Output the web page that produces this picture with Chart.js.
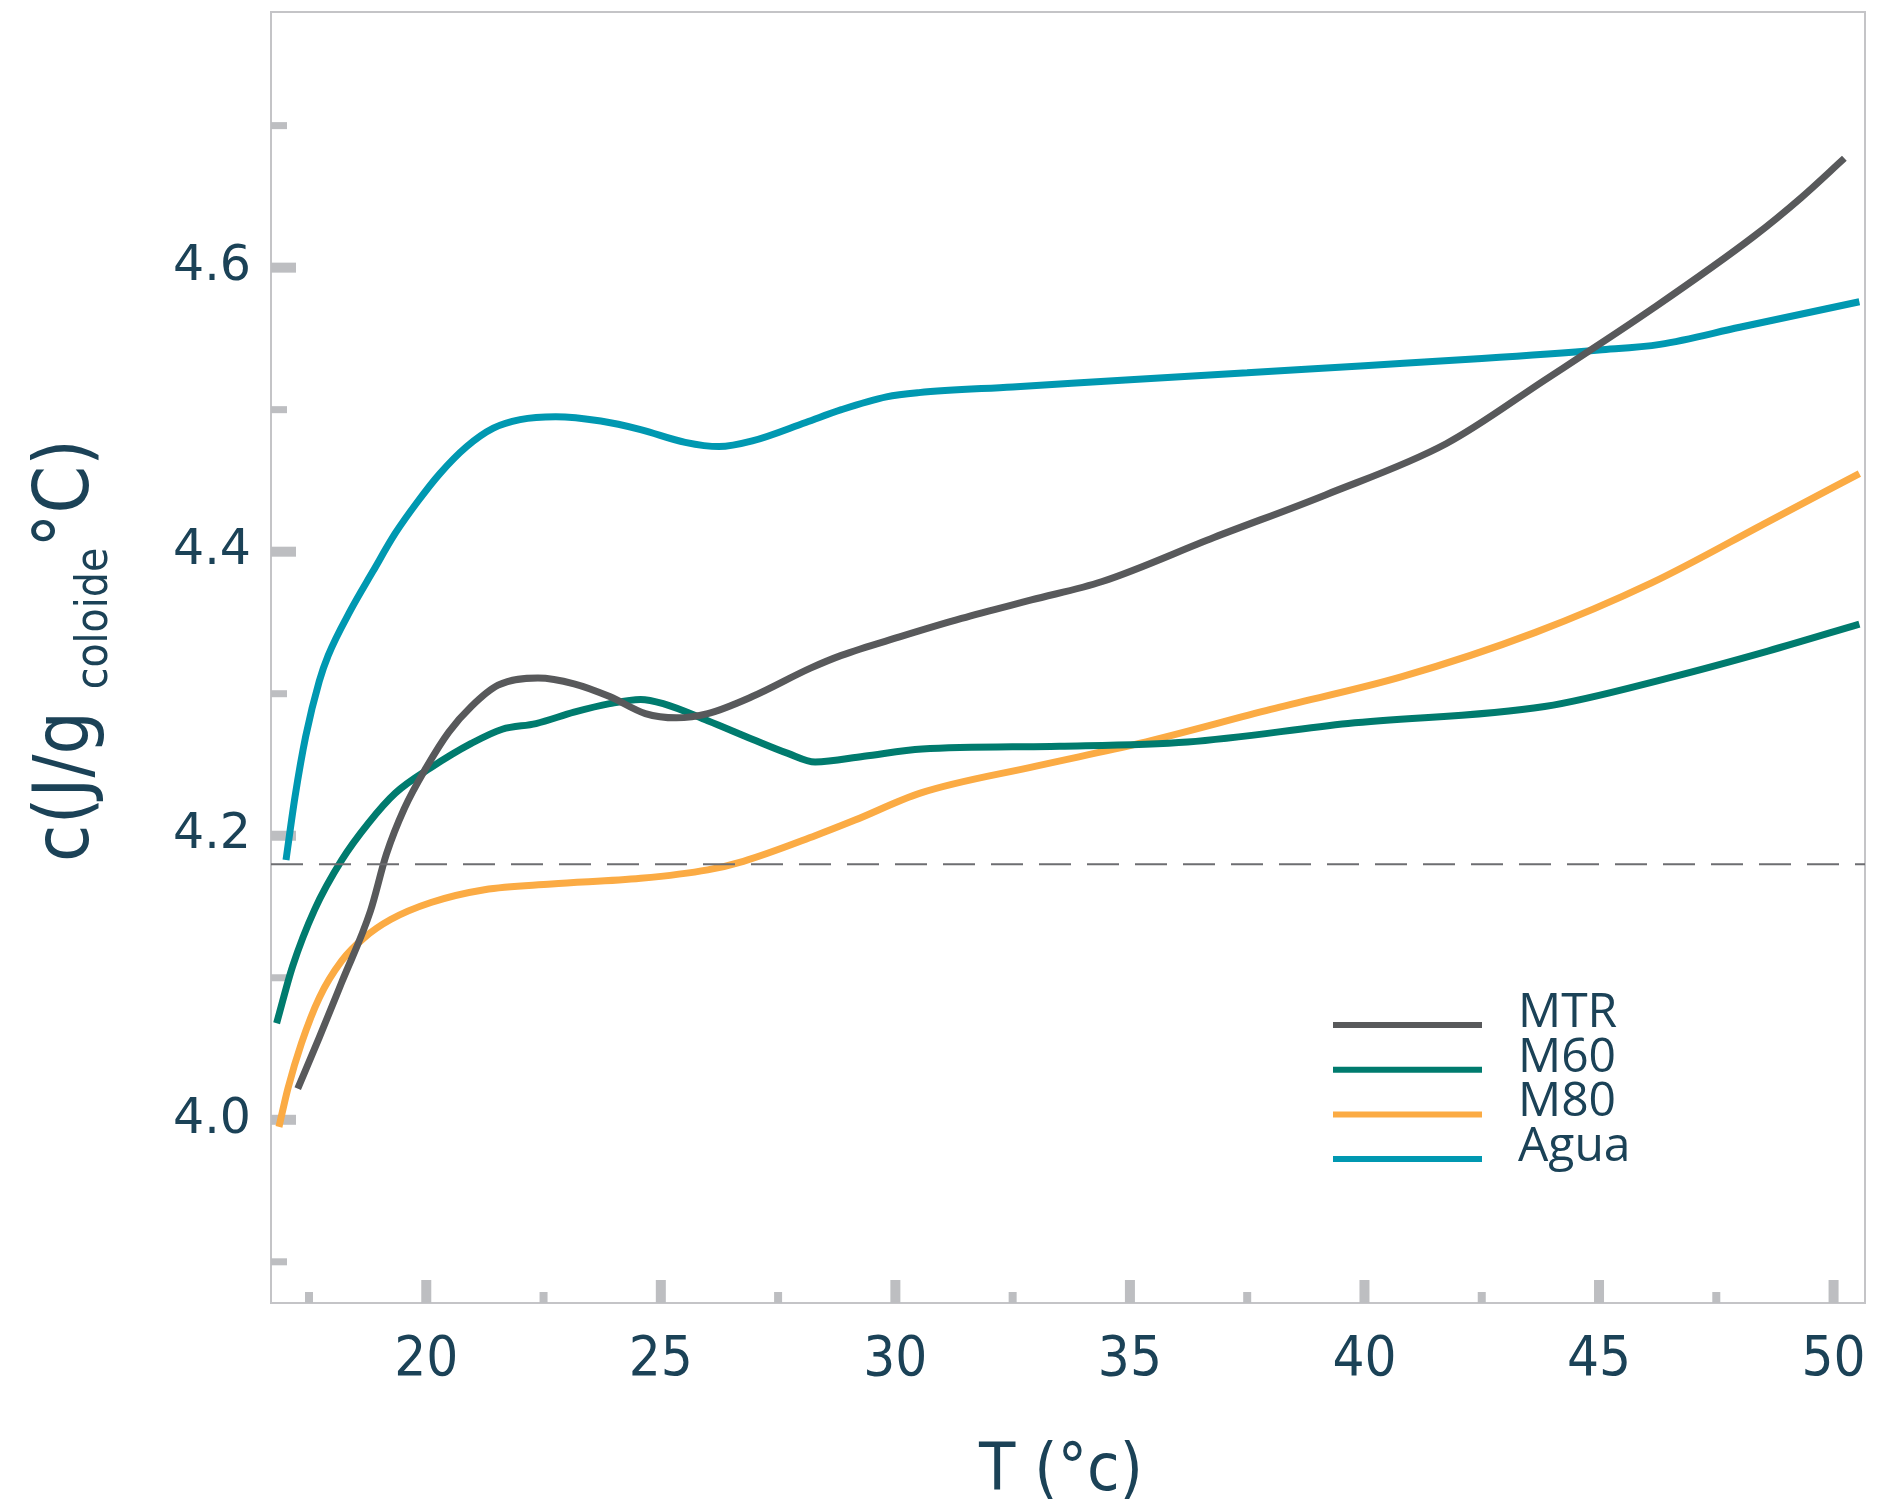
<!DOCTYPE html>
<html lang="es">
<head>
    <meta charset="UTF-8">
    <title>Calor específico de coloides</title>
    <script src="https://cdn.jsdelivr.net/npm/chart.js"></script>
    <style>
        html, body { margin: 0; padding: 0; background: #fff; }
        #wrap { width: 1878px; height: 1511px; }
    </style>
</head>
<body>
    <div id="wrap"><canvas id="chart"></canvas></div>

    <script>
        // Temperatura (°C) y calor específico c (J/g °C) por muestra
        const mtrT = [17.26, 17.72, 18.20, 18.81, 19.15, 19.53, 20.0, 20.48, 20.96, 21.53, 22.38, 23.15, 23.91, 24.67, 25.33, 26.0, 26.95, 28.19, 28.85, 30.09, 31.41, 32.9, 34.41, 36.79, 39.17, 41.74, 43.85, 46.18, 48.3, 49.3, 50.23];
        const mtrC = [4.022, 4.058, 4.097, 4.147, 4.187, 4.219, 4.248, 4.273, 4.291, 4.306, 4.311, 4.307, 4.298, 4.286, 4.283, 4.286, 4.298, 4.318, 4.327, 4.340, 4.353, 4.366, 4.379, 4.410, 4.440, 4.476, 4.521, 4.572, 4.622, 4.649, 4.677];

        const m60T = [16.81, 17.15, 17.62, 18.20, 18.77, 19.34, 20.10, 20.96, 21.62, 22.34, 23.15, 23.91, 24.57, 25.05, 26.0, 26.95, 27.71, 28.29, 29.33, 30.57, 33.5, 36.23, 39.65, 43.84, 46.47, 48.6, 50.55];
        const m60C = [4.068, 4.108, 4.148, 4.183, 4.209, 4.230, 4.248, 4.265, 4.275, 4.279, 4.287, 4.293, 4.296, 4.293, 4.281, 4.268, 4.258, 4.252, 4.256, 4.261, 4.263, 4.266, 4.279, 4.291, 4.311, 4.330, 4.349];

        const m80T = [16.86, 17.05, 17.34, 17.72, 18.20, 18.67, 19.24, 20.10, 21.24, 22.67, 24.57, 26.0, 26.76, 28.29, 29.14, 30.53, 33.0, 35.2, 38.0, 40.8, 43.63, 46.12, 48.6, 50.55];
        const m80C = [3.995, 4.022, 4.054, 4.086, 4.112, 4.128, 4.141, 4.153, 4.162, 4.166, 4.170, 4.176, 4.182, 4.200, 4.211, 4.230, 4.249, 4.265, 4.289, 4.312, 4.343, 4.378, 4.421, 4.455];

        const aguaT = [17.01, 17.20, 17.43, 17.72, 17.91, 18.39, 18.86, 19.34, 19.81, 20.29, 20.86, 21.43, 22.0, 22.76, 23.72, 24.57, 25.52, 26.24, 26.95, 28.09, 28.85, 29.81, 30.5, 32.5, 35.0, 37.5, 40.0, 42.5, 45.0, 46.3, 48.0, 50.55];
        const aguaC = [4.183, 4.227, 4.270, 4.309, 4.327, 4.359, 4.386, 4.413, 4.435, 4.455, 4.474, 4.487, 4.493, 4.495, 4.492, 4.486, 4.477, 4.474, 4.478, 4.491, 4.500, 4.509, 4.512, 4.516, 4.521, 4.526, 4.531, 4.536, 4.542, 4.546, 4.558, 4.576];

        // Valor de referencia (agua, 4.18 J/g °C)
        const referenceC = 4.18;

        const seriesNames = ['MTR', 'M60', 'M80', 'Agua'];
        const seriesColors = ['#58595b', '#007b6e', '#fbab44', '#0098b1'];

        // Ejes
        const xMin = 16.69, xMax = 50.67;
        const yMin = 3.871, yMax = 4.78;
        const xMajorTicks = [20, 25, 30, 35, 40, 45, 50];
        const xMinorTicks = [17.5, 22.5, 27.5, 32.5, 37.5, 42.5, 47.5];
        const yMajorTicks = [4.0, 4.2, 4.4, 4.6];
        const yMinorTicks = [3.9, 4.1, 4.3, 4.5, 4.7];

        const TEXT = '#1b4257';
        const TICK = '#bdbec1';
        const FRAME = '#c4c4c7';
        const CONDENSED = "'DejaVu Sans Condensed', 'Liberation Sans Narrow', sans-serif";

        function points(xs, ys) {
            return xs.map((x, i) => ({ x: x, y: ys[i] }));
        }

        const seriesData = [
            points(mtrT, mtrC),
            points(m60T, m60C),
            points(m80T, m80C),
            points(aguaT, aguaC)
        ];

        // Marco, marcas de los ejes, títulos y leyenda
        const decorations = {
            id: 'decorations',
            beforeDatasetsDraw(chart) {
                const { ctx, chartArea: a, scales: { x, y } } = chart;
                ctx.save();
                ctx.strokeStyle = FRAME;
                ctx.lineWidth = 2;
                ctx.strokeRect(a.left, a.top, a.width, a.height);

                ctx.fillStyle = TICK;
                yMajorTicks.forEach(v => {
                    const p = y.getPixelForValue(v);
                    ctx.fillRect(a.left, p - 5, 25, 10);
                });
                yMinorTicks.forEach(v => {
                    const p = y.getPixelForValue(v);
                    ctx.fillRect(a.left, p - 3.5, 16, 7);
                });
                xMajorTicks.forEach(v => {
                    const p = x.getPixelForValue(v);
                    ctx.fillRect(p - 5, a.bottom - 23, 10, 23);
                });
                xMinorTicks.forEach(v => {
                    const p = x.getPixelForValue(v);
                    ctx.fillRect(p - 4, a.bottom - 11, 8, 11);
                });
                ctx.restore();
            },
            afterDraw(chart) {
                const { ctx, chartArea: a } = chart;
                ctx.save();
                ctx.fillStyle = TEXT;

                // Título eje X
                ctx.font = `66px ${CONDENSED}`;
                ctx.textAlign = 'center';
                ctx.textBaseline = 'middle';
                ctx.fillText('T (°c)', (a.left + a.right) / 2 - 7, a.bottom + 170);

                // Título eje Y con subíndice
                const big = `76px ${CONDENSED}`;
                const small = `44px 'Liberation Sans Narrow', ${CONDENSED}`;
                const runs = [
                    { text: 'c(J/g ', font: big, dy: 0 },
                    { text: 'coloide', font: small, dy: 19 },
                    { text: '°C)', font: big, dy: 0 }
                ];
                let total = 0;
                runs.forEach(r => { ctx.font = r.font; r.w = ctx.measureText(r.text).width; total += r.w; });
                ctx.translate(88, (a.top + a.bottom) / 2 - 7);
                ctx.rotate(-Math.PI / 2);
                ctx.textAlign = 'left';
                ctx.textBaseline = 'alphabetic';
                let cx = -total / 2;
                runs.forEach(r => {
                    ctx.font = r.font;
                    ctx.fillText(r.text, cx, r.dy);
                    cx += r.w;
                });
                ctx.setTransform(1, 0, 0, 1, 0, 0);

                // Leyenda
                const lx = a.right - 532;
                const ly = a.bottom - 278;
                ctx.font = "48px 'Open Sans', sans-serif";
                ctx.textAlign = 'left';
                ctx.textBaseline = 'alphabetic';
                seriesNames.forEach((name, i) => {
                    const rowY = ly + i * 44.7;
                    ctx.strokeStyle = seriesColors[i];
                    ctx.lineWidth = 6;
                    ctx.beginPath();
                    ctx.moveTo(lx, rowY);
                    ctx.lineTo(lx + 149, rowY);
                    ctx.stroke();
                    ctx.fillStyle = TEXT;
                    ctx.fillText(name, lx + 185, rowY + 2);
                });
                ctx.restore();
            }
        };

        const datasets = seriesNames.map((name, i) => ({
            label: name,
            data: seriesData[i],
            borderColor: seriesColors[i],
            borderWidth: 7,
            pointRadius: 0,
            fill: false,
            cubicInterpolationMode: 'monotone'
        }));

        datasets.unshift({
            label: 'Referencia',
            data: [{ x: xMin, y: referenceC }, { x: xMax, y: referenceC }],
            borderColor: '#6d6e71',
            borderWidth: 2,
            borderDash: [32, 16],
            pointRadius: 0,
            fill: false
        });

        new Chart(document.getElementById('chart'), {
            type: 'line',
            data: { datasets: datasets },
            plugins: [decorations],
            options: {
                responsive: true,
                maintainAspectRatio: false,
                animation: false,
                layout: { padding: { top: 12, right: 13, left: 0, bottom: 0 } },
                plugins: {
                    legend: { display: false },
                    tooltip: { enabled: false }
                },
                scales: {
                    x: {
                        type: 'linear',
                        min: xMin,
                        max: xMax,
                        grid: { display: false, drawTicks: false },
                        border: { display: false },
                        afterBuildTicks: scale => { scale.ticks = xMajorTicks.map(v => ({ value: v })); },
                        afterFit: scale => { scale.height = 208; scale.paddingLeft = 0; scale.paddingRight = 0; },
                        ticks: {
                            color: TEXT,
                            padding: 24,
                            maxRotation: 0,
                            font: { family: CONDENSED, size: 56 },
                            callback: v => String(v)
                        }
                    },
                    y: {
                        type: 'linear',
                        min: yMin,
                        max: yMax,
                        grid: { display: false, drawTicks: false },
                        border: { display: false },
                        afterBuildTicks: scale => { scale.ticks = yMajorTicks.map(v => ({ value: v })); },
                        afterFit: scale => { scale.width = 271; scale.paddingTop = 0; scale.paddingBottom = 0; },
                        ticks: {
                            color: TEXT,
                            padding: 20,
                            font: { family: "'DejaVu Sans', sans-serif", size: 49 },
                            callback: v => Number(v).toFixed(1)
                        }
                    }
                }
            }
        });
    </script>
</body>
</html>
